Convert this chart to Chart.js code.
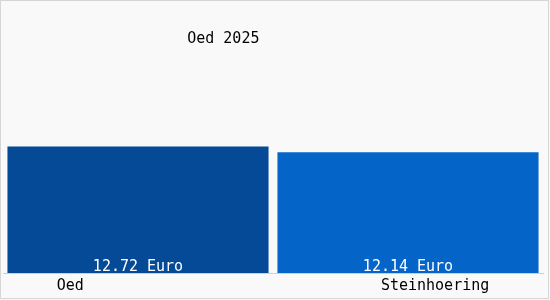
<!DOCTYPE html>
<html>
<head>
<meta charset="utf-8">
<script src="https://cdn.jsdelivr.net/npm/chart.js@4/dist/chart.umd.min.js"></script>
<style>
  html, body { margin: 0; padding: 0; background: #fff; }
  #wrap { width: 550px; height: 300px; }
</style>
</head>
<body>
<div id="wrap"><canvas id="preis"></canvas></div>
<script>
const places = ['Oed', 'Steinhoering'];
const prices = [12.72, 12.14];
const barColors = ['#044a96', '#0564c8'];
const titleText = 'Oed 2025';
const unit = 'Euro';

// labels are not centred on the bars in the original, padded with spaces (monospace font)
const tickLabels = ['Oed' + ' '.repeat(15), ' '.repeat(6) + 'Steinhoering'];

const monoFont = { family: 'DejaVu Sans Mono', size: 15, weight: 'normal' };

const frame = {
  id: 'frame',
  beforeDraw(chart) {
    const { ctx, width, height } = chart;
    ctx.save();
    ctx.fillStyle = '#f9f9f9';
    ctx.fillRect(0, 0, width, height);
    ctx.strokeStyle = '#d6d6d6';
    ctx.lineWidth = 1;
    ctx.strokeRect(0.5, 0.5, width - 2, height - 2);
    ctx.restore();
  }
};

const valueLabels = {
  id: 'valueLabels',
  afterDatasetsDraw(chart) {
    const { ctx } = chart;
    const meta = chart.getDatasetMeta(0);
    ctx.save();
    ctx.font = '15px "DejaVu Sans Mono"';
    ctx.fillStyle = '#ffffff';
    ctx.textAlign = 'center';
    ctx.textBaseline = 'alphabetic';
    meta.data.forEach((bar, i) => {
      ctx.fillText(prices[i].toFixed(2) + ' ' + unit, bar.x, bar.base - 2);
    });
    ctx.restore();
  }
};

new Chart('preis', {
  type: 'bar',
  data: {
    labels: tickLabels,
    datasets: [{
      data: prices,
      backgroundColor: barColors,
      borderWidth: 0,
      categoryPercentage: 1,
      barPercentage: 0.967
    }]
  },
  options: {
    responsive: true,
    maintainAspectRatio: false,
    animation: false,
    layout: { padding: { left: 3, right: 7, top: 0, bottom: 1 } },
    plugins: {
      legend: { display: false },
      tooltip: { enabled: false },
      title: {
        display: true,
        text: titleText + ' '.repeat(11),
        color: '#000',
        font: monoFont,
        padding: { top: 30, bottom: 7 }
      }
    },
    scales: {
      y: {
        display: false,
        min: 0,
        max: 21.9
      },
      x: {
        grid: { display: false, drawTicks: false },
        border: { display: true, color: '#cfcfcf', width: 1 },
        ticks: { color: '#000', font: { ...monoFont, lineHeight: 0.8 }, padding: 7, maxRotation: 0 }
      }
    }
  },
  plugins: [frame, valueLabels]
});
</script>
</body>
</html>
